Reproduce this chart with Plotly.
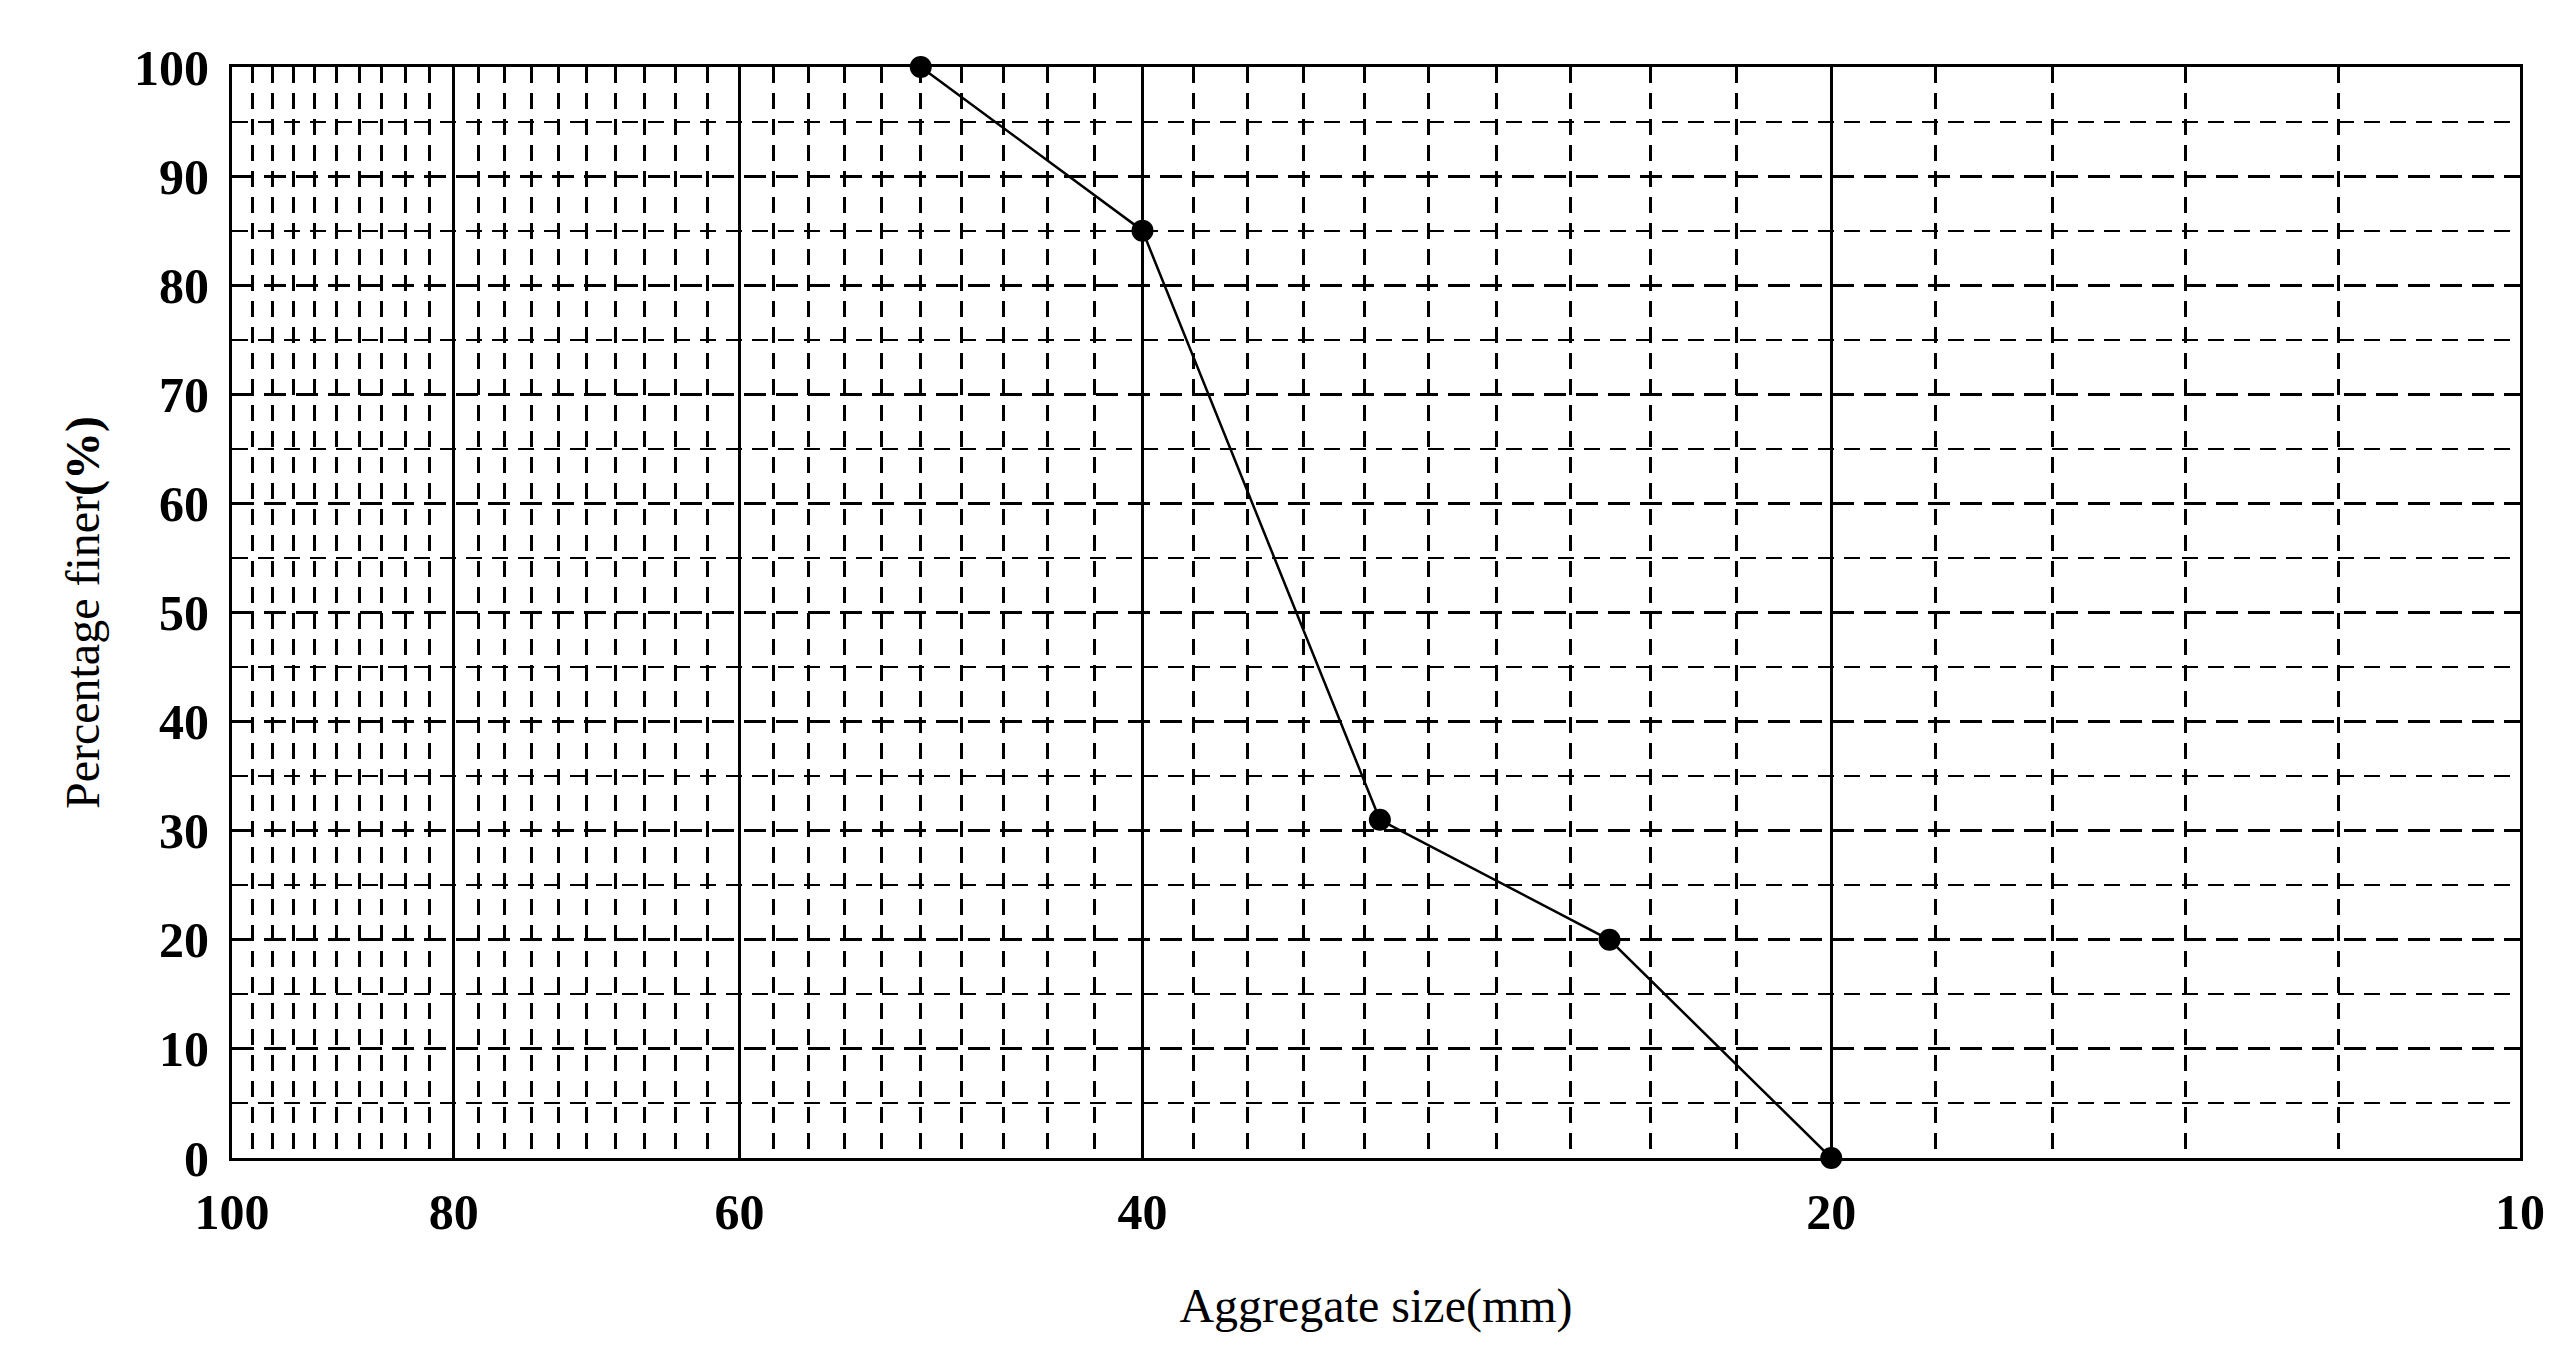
import plotly.graph_objects as go

sizes = [50, 40, 31.5, 25, 20]
finer = [100, 85, 31, 20, 0]
x_major = [100, 80, 60, 40, 20, 10]
x_minor = [v for v in range(12, 100, 2) if v not in (20, 40, 60, 80)]
y_major = list(range(0, 101, 10))
y_minor = list(range(5, 100, 10))

fig = go.Figure(go.Scatter(x=sizes, y=finer, mode="lines+markers", cliponaxis=False,
                           line=dict(color="black", width=2.5),
                           marker=dict(color="black", size=22)))
tf = dict(size=50, family="Liberation Serif", color="black", weight="bold")
font = dict(family="Liberation Serif", color="black")
fig.update_layout(
    width=2558, height=1363, plot_bgcolor="white", paper_bgcolor="white",
    margin=dict(l=224, r=46, t=59, b=213), showlegend=False,
    xaxis=dict(type="log", range=[2, 1], tickvals=x_major, ticktext=[str(v) for v in x_major],
               tickfont=tf, showline=True, linecolor="black", linewidth=3, ticklabelstandoff=8,
               mirror=True, showgrid=True, gridcolor="black", gridwidth=2.5, zeroline=False,
               ticks="", title=dict(text="Aggregate size(mm)", font=dict(size=48, **font), standoff=50),
               minor=dict(tickvals=x_minor, showgrid=True, gridcolor="black", gridwidth=2.5,
                          griddash="16px,10px")),
    yaxis=dict(range=[0, 100], tickvals=y_major, tickfont=tf, ticklabelstandoff=10,
               showline=True, linecolor="black", linewidth=3, mirror=True,
               showgrid=True, gridcolor="black", gridwidth=2.5, griddash="22px,10px", zeroline=False,
               ticks="inside", ticklen=14, tickwidth=3, tickcolor="black",
               title=dict(text="Percentage finer<b>(%)</b>", font=dict(size=48, **font), standoff=20),
               minor=dict(tickvals=y_minor, showgrid=True, gridcolor="black", gridwidth=2,
                          griddash="16px,10px")),
)
fig.write_html("out.html")
